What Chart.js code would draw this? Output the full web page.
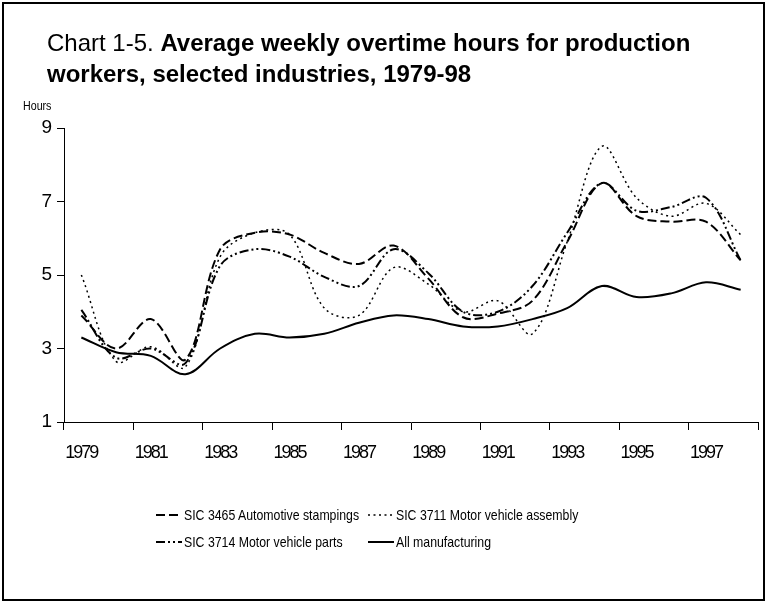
<!DOCTYPE html>
<html>
<head>
<meta charset="utf-8">
<script src="https://cdn.jsdelivr.net/npm/chart.js@4.4.0/dist/chart.umd.min.js"></script>
<style>
  html, body { margin: 0; padding: 0; background: #fff; }
  #frame { position: absolute; left: 2px; top: 2px; width: 759px; height: 595px; border: 2px solid #000; }
  #wrap { position: absolute; left: 0; top: 0; width: 767px; height: 603px; }
  #title { position: absolute; left: 47px; top: 27px; font: 24px "Liberation Sans", Arial, sans-serif; line-height: 31px; color: #000; white-space: nowrap; }
  #unit { position: absolute; left: 23px; top: 98px; font: 13px "Liberation Sans", Arial, sans-serif; color: #000; transform: scaleX(0.82); transform-origin: left center; }
  #legend { position: absolute; left: 156px; top: 501px; display: grid; grid-template-columns: 212px 240px; grid-auto-rows: 27px; font: 15px "Liberation Sans", Arial, sans-serif; color: #000; }
  #legend div { display: flex; align-items: center; white-space: nowrap; overflow: visible; }
  #legend svg { flex-shrink: 0; margin-right: 2px; }
  #legend span { display: inline-block; transform: scaleX(0.82); transform-origin: left center; }
</style>
</head>
<body>
<div id="frame"></div>
<div id="wrap"><canvas id="chart" width="767" height="603"></canvas></div>
<div id="title">Chart 1-5. <b>Average weekly overtime hours for production<br>workers, selected industries, 1979-98</b></div>
<div id="unit">Hours</div>
<div id="legend"></div>
<script>
// annual averages
const years = ['1979', '1980', '1981', '1982', '1983', '1984', '1985', '1986', '1987', '1988',
               '1989', '1990', '1991', '1992', '1993', '1994', '1995', '1996', '1997', '1998'];
const stampings = [3.9, 3.0, 3.8, 2.7, 5.7, 6.15, 6.1, 5.6, 5.3, 5.8, 4.9, 3.85, 3.95, 4.3, 5.9, 7.5, 6.6, 6.45, 6.45, 5.4];
const assembly  = [5.0, 2.65, 3.05, 2.5, 5.5, 6.15, 6.1, 4.1, 3.9, 5.2, 4.75, 4.0, 4.3, 3.4, 5.9, 8.5, 7.1, 6.6, 6.95, 6.1];
const parts     = [4.05, 2.75, 3.0, 2.6, 5.25, 5.7, 5.5, 4.95, 4.7, 5.7, 5.05, 4.0, 4.0, 4.7, 6.15, 7.5, 6.75, 6.85, 7.1, 5.4];
const allMfg    = [3.3, 2.9, 2.8, 2.3, 3.0, 3.4, 3.3, 3.4, 3.7, 3.9, 3.8, 3.6, 3.6, 3.8, 4.1, 4.7, 4.4, 4.5, 4.8, 4.6];

const seriesNames = ['SIC 3465 Automotive stampings', 'SIC 3711 Motor vehicle assembly',
                     'SIC 3714 Motor vehicle parts', 'All manufacturing'];
const seriesValues = [stampings, assembly, parts, allMfg];
const seriesDash = [[9, 4], [2, 3.5], [9, 3, 2, 3, 2, 3], []];
const seriesWidth = [2, 1.5, 2, 2];

const arial = '"Liberation Sans", Arial, sans-serif';

function buildLegend() {
    const box = document.getElementById('legend');
    seriesNames.forEach((name, i) => {
        const item = document.createElement('div');
        const dash = seriesDash[i].length ? seriesDash[i].join(' ') : 'none';
        item.innerHTML = '<svg width="26" height="6"><line x1="0" y1="3" x2="26" y2="3" stroke="#000" stroke-width="' +
            seriesWidth[i] + '" stroke-dasharray="' + dash + '"/></svg><span>' + name + '</span>';
        box.appendChild(item);
    });
}

// tick marks only every second category boundary
const everyOther = ctx => (ctx.index === undefined || ctx.index % 2 === 0) ? '#000' : 'rgba(0,0,0,0)';

// squeeze the axis text a bit, the original uses a narrow face
const tightText = {
    id: 'tightText',
    beforeDraw(chart) { chart.ctx.letterSpacing = '-2px'; },
    afterDraw(chart) { chart.ctx.letterSpacing = '0px'; }
};

new Chart(document.getElementById('chart'), {
    type: 'line',
    data: {
        labels: years,
        datasets: seriesValues.map((vals, i) => ({
            label: seriesNames[i],
            data: vals,
            borderColor: '#000',
            backgroundColor: '#000',
            borderWidth: seriesWidth[i],
            borderDash: seriesDash[i],
            pointRadius: 0,
            tension: 0.35,
            fill: false
        }))
    },
    plugins: [tightText],
    options: {
        responsive: false,
        animation: false,
        layout: { padding: { top: 128, right: 9, bottom: 0, left: 0 } },
        plugins: {
            legend: { display: false },
            tooltip: { enabled: false }
        },
        scales: {
            x: {
                type: 'category',
                offset: true,
                afterFit: scale => { scale.height = 181; },
                grid: {
                    display: true,
                    offset: true,
                    drawOnChartArea: false,
                    drawTicks: true,
                    tickLength: 8,
                    color: everyOther
                },
                border: { display: true, color: '#000', width: 1 },
                ticks: {
                    autoSkip: false,
                    maxRotation: 0,
                    padding: 12,
                    color: '#000',
                    font: { family: arial, size: 18 },
                    callback: (v, i) => (i % 2 === 0 ? years[i] : '')
                }
            },
            y: {
                min: 1,
                max: 9,
                afterFit: scale => { scale.width = 64; },
                grid: { display: true, drawOnChartArea: false, tickLength: 7, color: '#000' },
                border: { display: true, color: '#000', width: 1 },
                ticks: {
                    stepSize: 2,
                    padding: 7,
                    color: '#000',
                    font: { family: arial, size: 19 }
                }
            }
        }
    }
});

buildLegend();
</script>
</body>
</html>
